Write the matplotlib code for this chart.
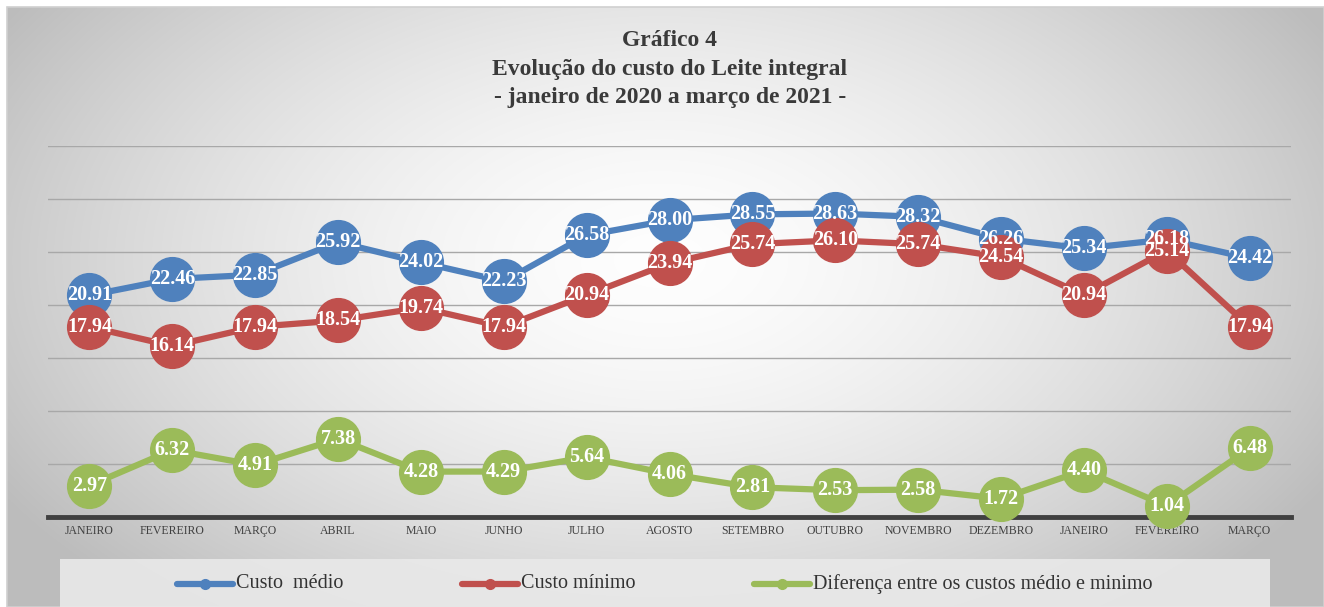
import numpy as np
import matplotlib.pyplot as plt
from matplotlib.patches import Rectangle

meses = ['JANEIRO', 'FEVEREIRO', 'MARÇO', 'ABRIL', 'MAIO', 'JUNHO', 'JULHO',
         'AGOSTO', 'SETEMBRO', 'OUTUBRO', 'NOVEMBRO', 'DEZEMBRO', 'JANEIRO',
         'FEVEREIRO', 'MARÇO']
custo_medio = [20.91, 22.46, 22.85, 25.92, 24.02, 22.23, 26.58, 28.00, 28.55,
               28.63, 28.32, 26.26, 25.34, 26.18, 24.42]
custo_minimo = [17.94, 16.14, 17.94, 18.54, 19.74, 17.94, 20.94, 23.94, 25.74,
                26.10, 25.74, 24.54, 20.94, 25.14, 17.94]
diferenca = [2.97, 6.32, 4.91, 7.38, 4.28, 4.29, 5.64, 4.06, 2.81, 2.53, 2.58,
             1.72, 4.40, 1.04, 6.48]

serif = ['Liberation Serif', 'DejaVu Serif']
plt.rcParams['font.family'] = serif

W, H = 1324, 607
fig = plt.figure(figsize=(W / 100, H / 100), dpi=100)

# background: radial gradient inside a box
bg = fig.add_axes([0, 0, 1, 1], zorder=-10)
bg.set_xlim(0, W)
bg.set_ylim(H, 0)
bg.axis('off')
xx, yy = np.meshgrid(np.linspace(7, W, 400), np.linspace(7, H, 200))
r = np.sqrt(((xx - 660) / 700) ** 2 + ((yy - 260) / 420) ** 2)
shade = np.clip(0.995 - 0.22 * r ** 1.6, 0.74, 1)
bg.imshow(np.dstack([shade] * 3), extent=(7, W, H, 7), aspect='auto',
          interpolation='bilinear')
bg.add_patch(Rectangle((7, 7), W - 7, H - 7, fill=False, ec='#d0d0d0', lw=1.2))
# legend box
bg.add_patch(Rectangle((60, 559), 1210, 60, fc='#e9e9e9', ec='none', alpha=0.9))

ax = fig.add_axes([48 / W, 1 - 517 / H, (1291 - 48) / W, (517 - 146) / H])
ax.patch.set_alpha(0)
x = np.arange(len(meses))
ax.set_xlim(-0.5, len(meses) - 0.5)
ax.set_ylim(0, 35)
ax.set_yticks(np.arange(5, 36, 5))
ax.yaxis.grid(True, color='#a8a8a8', lw=1)
ax.set_axisbelow(True)
for s in ['top', 'right', 'left']:
    ax.spines[s].set_visible(False)
ax.spines['bottom'].set_color('#404040')
ax.spines['bottom'].set_linewidth(3.5)
ax.tick_params(axis='y', left=False, labelleft=False)
ax.tick_params(axis='x', length=0, pad=6)
ax.set_xticks(x)
ax.set_xticklabels(meses, fontsize=8.5, color='#404040')

series = [(custo_medio, '#4F81BD', 'Custo  médio'),
          (custo_minimo, '#C0504D', 'Custo mínimo'),
          (diferenca, '#9BBB59', 'Diferença entre os custos médio e minimo')]
for vals, cor, nome in series:
    ax.plot(x, vals, color=cor, lw=4.5, marker='o', ms=31.5, mec=cor,
            clip_on=False, zorder=3)
    for xi, v in zip(x, vals):
        ax.text(xi, v, f'{v:.2f}', ha='center', va='center', color='white',
                fontsize=14.5, fontweight='bold', zorder=5)

# legend entries
leg_x = [177, 462, 754]
for (vals, cor, nome), lx in zip(series, leg_x):
    bg.plot([lx, lx + 56], [584, 584], color=cor, lw=4.5, solid_capstyle='round')
    bg.plot(lx + 28, 584, 'o', color=cor, ms=7)
    bg.text(lx + 59, 584, nome, ha='left', va='center', fontsize=14.5,
            color='#333333')

titulo = ['Gráfico 4', 'Evolução do custo do Leite integral',
          '- janeiro de 2020 a março de 2021 -']
for i, t in enumerate(titulo):
    bg.text(670, 41 + i * 28.5, t, ha='center', va='center', fontsize=17,
            fontweight='bold', color='#3a3a3a')

fig.savefig('out.png', dpi=100)
